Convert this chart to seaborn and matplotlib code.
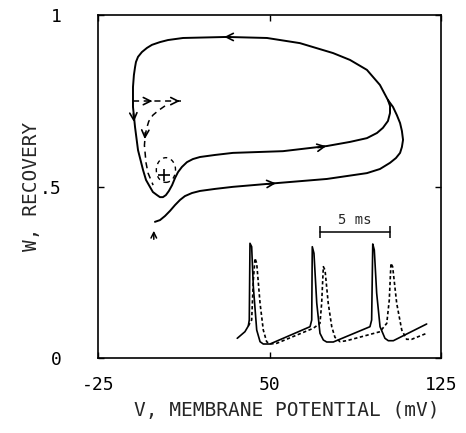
import numpy as np
import pandas as pd
import matplotlib
matplotlib.use('Agg')
import matplotlib.pyplot as plt
import seaborn as sns
from matplotlib.patches import Ellipse

# phase plane: limit cycle (V in mV, W recovery), counter-clockwise
cycle_v = [101.8, 98.3, 92.6, 85.2, 77.8, 63.3, 48.9, 31.4, 12.2, 5.6, 2.1, -1.4, -3.6, -5.8,
           -7.5, -8.4, -8.8, -9.3, -9.7, -9.7, -8.8, -7.5, -5.3, -4.0, -2.3, -1.0, 0.8, 2.1,
           3.4, 4.7, 6.0, 7.4, 8.7, 10.0, 11.7, 13.9, 16.5, 19.6, 26.2, 34.0, 55.9, 75.1,
           85.2, 92.6, 97.0, 99.6, 101.8, 102.7, 102.7, 101.8]
cycle_w = [0.752, 0.796, 0.840, 0.869, 0.889, 0.918, 0.933, 0.936, 0.933, 0.927, 0.921, 0.913, 0.904, 0.892,
           0.878, 0.863, 0.848, 0.825, 0.790, 0.732, 0.673, 0.606, 0.548, 0.519, 0.499, 0.484, 0.475, 0.469,
           0.469, 0.475, 0.487, 0.504, 0.525, 0.542, 0.557, 0.571, 0.580, 0.586, 0.592, 0.598, 0.603, 0.618,
           0.630, 0.641, 0.656, 0.671, 0.691, 0.714, 0.735, 0.752]

# transient from the initial condition
trans_v = [-0.1, 2.1, 4.3, 6.5, 8.7, 10.9, 13.0, 16.1, 19.6, 26.2, 34.0, 53.3, 75.1, 92.6, 98.3,
           102.7, 105.3, 107.1, 107.9, 108.4, 107.9, 107.1, 105.7, 104.0, 101.8]
trans_w = [0.397, 0.402, 0.414, 0.429, 0.446, 0.461, 0.472, 0.481, 0.487, 0.493, 0.499, 0.510, 0.522, 0.539, 0.551,
           0.569, 0.583, 0.598, 0.615, 0.636, 0.662, 0.685, 0.708, 0.732, 0.752]

# dashed perturbation trajectories
dash1_v = [-9.7, 11.3]
dash1_w = [0.749, 0.749]
dash2_v = [4.3, 1.5, -1.0, -2.8, -3.8, -4.4, -4.7, -4.4, -4.0, -3.1, -0.9]
dash2_w = [0.735, 0.722, 0.708, 0.690, 0.668, 0.645, 0.620, 0.598, 0.569, 0.539, 0.504]

# inset: membrane potential traces (time in ms, arbitrary voltage units)
trace1_t = [0.16, 0.71, 0.95, 1.02, 1.07, 1.19, 1.31, 1.55, 1.79, 2.02, 2.5, 5.36, 5.48, 5.52, 5.64,
            5.84, 6.07, 6.31, 6.55, 7.02, 9.64, 9.76, 9.84, 9.95, 10.12, 10.36, 10.71, 10.95, 11.31, 13.69]
trace1_v = [13.7, 20.3, 26, 32, 108.7, 105.3, 65.3, 22, 10.3, 8, 8, 25.3, 32, 105.3, 98.7,
            48.7, 18.7, 12, 10, 10, 25.3, 32, 108, 102, 58.7, 25.3, 13.7, 11.3, 11.3, 28]
trace2_t = [0.95, 1.19, 1.31, 1.43, 1.55, 1.79, 2.02, 2.26, 2.5, 2.98, 5.59, 6.07, 6.19, 6.31, 6.43,
            6.66, 6.91, 7.14, 7.5, 7.98, 10.36, 10.84, 11.02, 11.14, 11.26, 11.55, 11.91, 12.26, 12.62, 13.69]
trace2_v = [26, 32, 72, 93.7, 88.7, 48.7, 22, 10.3, 8, 8.7, 23.7, 28.7, 48.7, 85.3, 82,
            48.7, 25.3, 14.7, 10.3, 11.3, 20.3, 28.7, 52, 88.7, 85.3, 48.7, 22, 12.7, 12.7, 18.7]

sns.set_style('ticks')
plt.rcParams['font.family'] = ['DejaVu Sans Mono', 'DejaVu Sans']

fig = plt.figure(figsize=(4.66, 4.33), dpi=100)
ax = fig.add_axes([98 / 466, 1 - 358 / 433, 343 / 466, 343 / 433])

lw = 1.4
sns.lineplot(x=cycle_v, y=cycle_w, sort=False, estimator=None, color='black', lw=lw, ax=ax)
sns.lineplot(x=trans_v, y=trans_w, sort=False, estimator=None, color='black', lw=lw, ax=ax)
sns.lineplot(x=dash1_v, y=dash1_w, sort=False, estimator=None, color='black', lw=1.1, ax=ax)
sns.lineplot(x=dash2_v, y=dash2_w, sort=False, estimator=None, color='black', lw=1.1, ax=ax)
for ln in ax.lines:
    ln.set_solid_joinstyle('round')
ax.lines[2].set_linestyle((0, (4, 3)))
ax.lines[3].set_linestyle((0, (4, 3)))

ax.add_patch(Ellipse((4.7, 0.548), 8.4, 0.072, fill=False, ls=(0, (3, 3)), lw=1.0, color='black'))
ax.plot([4.0], [0.533], marker='+', ms=9, mew=1.2, color='black')

# direction arrows (tail, head)
arrows = [((34, 0.936), (29, 0.936)),
          ((70, 0.612), (76, 0.619)),
          ((48, 0.507), (54, 0.510)),
          ((-9.6, 0.72), (-9.2, 0.68)),
          ((-4, 0.749), (0, 0.749)),
          ((8, 0.749), (12, 0.749)),
          ((-4.3, 0.665), (-4.6, 0.63))]
for tail, head in arrows:
    ax.annotate('', xy=head, xytext=tail,
                arrowprops=dict(arrowstyle='->', color='black', lw=1.2, mutation_scale=13))
ax.annotate('', xy=(-0.6, 0.379), xytext=(-0.6, 0.338),
            arrowprops=dict(arrowstyle='->', color='black', lw=1.1, mutation_scale=10))

ax.set_xlim(-25, 125)
ax.set_ylim(0, 1)
ax.set_xticks([-25, 50, 125])
ax.set_xticklabels(['-25', '50', '125'])
ax.set_yticks([0, 0.5, 1])
ax.set_yticklabels(['0', '.5', '1'])
ax.tick_params(direction='in', top=True, right=True, length=4, width=1.0,
               labelsize=13, colors='black')
ax.tick_params(axis='x', pad=13)
ax.tick_params(axis='y', pad=26)
for s in ax.spines.values():
    s.set_linewidth(1.2)
    s.set_color('black')
ax.set_xlabel('V, MEMBRANE POTENTIAL (mV)', fontsize=14)
ax.set_ylabel('W, RECOVERY', fontsize=14)
ax.xaxis.set_label_coords(0.55, -0.125)
ax.yaxis.set_label_coords(-0.165, 0.5)

# inset with voltage traces
axi = fig.add_axes([235 / 466, 1 - 352 / 433, 200 / 466, 137 / 433])
axi.patch.set_alpha(0)
sns.lineplot(x=trace1_t, y=trace1_v, sort=False, estimator=None, color='black', lw=1.2, ax=axi)
sns.lineplot(x=trace2_t, y=trace2_v, sort=False, estimator=None, color='black', lw=1.2, ax=axi)
axi.lines[1].set_linestyle((0, (2, 1.5)))
axi.plot([6.07, 11.07], [120.3, 120.3], color='black', lw=1.1, marker='|', ms=8, mew=1.1)
axi.text(8.57, 125, '5 ms', ha='center', va='bottom', fontsize=10)
axi.set_xlim(0, 200 / 14)
axi.set_ylim(0, 137)
axi.axis('off')

fig.savefig('out.png', dpi=100)
